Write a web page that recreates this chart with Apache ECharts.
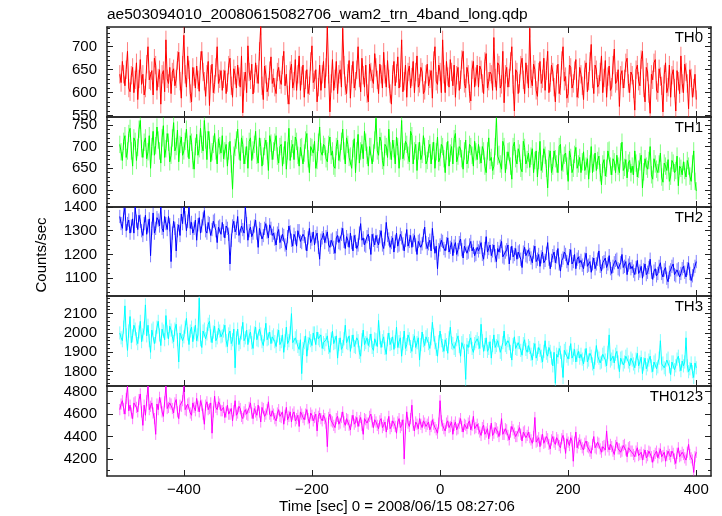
<!DOCTYPE html>
<html><head><meta charset="utf-8">
<script src="https://cdn.jsdelivr.net/npm/echarts@6/dist/echarts.min.js"></script>
<style>html,body{margin:0;padding:0;background:#fff}#c{width:722px;height:516px}</style>
</head><body><div id="c"></div>
<script>
// ---- data ----
const titleText = 'ae503094010_20080615082706_wam2_trn_4band_long.qdp';
const xLabel = 'Time [sec] 0 = 2008/06/15 08:27:06';
const yLabel = 'Counts/sec';
const bandNames = ['TH0', 'TH1', 'TH2', 'TH3', 'TH0123'];
const tStart = -500, tStep = 2; // bin centres, 2 s bins
const xTicks = [-400, -200, 0, 200, 400];

const th0 = [
640,622,668,640,615,650,690,610,602,638,655,600,628,665,585,630,672,618,640,595,610,662,700,628,625,648,595,675,660,605,632,650,575,640,648,602,715,630,620,655,
598,645,652,615,630,670,688,625,588,660,725,640,612,680,650,598,580,655,635,610,658,628,603,670,690,645,625,592,640,668,572,640,662,600,618,655,700,620,630,648,
605,630,648,598,622,660,675,615,590,652,638,610,660,635,612,680,556,625,645,600,702,645,628,662,597,620,665,640,620,690,745,615,585,658,640,602,612,648,678,620,
632,612,598,645,655,628,618,660,690,615,640,595,575,648,662,610,625,672,605,640,680,605,637,660,590,628,650,598,615,668,702,622,628,650,580,612,660,605,640,668,
610,655,745,640,558,620,672,605,630,668,598,640,650,612,740,660,615,598,642,670,588,640,668,610,625,650,700,632,602,675,638,612,660,598,580,662,645,630,620,685,
655,628,598,662,640,610,688,640,612,670,630,598,575,640,668,615,642,678,610,632,715,602,625,660,590,645,658,610,634,668,600,645,680,612,620,655,645,598,605,640,
662,615,630,648,588,670,700,625,618,660,645,600,715,640,600,668,635,612,672,645,615,660,590,638,655,605,628,672,690,620,610,655,640,598,582,650,668,612,635,660,
612,658,650,620,598,668,685,610,625,645,640,605,720,632,605,665,660,610,618,690,578,640,655,612,632,668,700,618,560,650,645,598,620,660,675,628,598,665,640,610,
740,630,615,662,650,605,592,645,668,620,630,675,605,648,690,600,622,660,645,612,580,640,662,598,615,670,700,625,635,588,598,660,655,610,620,648,672,590,608,655,
640,615,585,650,665,602,625,668,705,630,598,660,650,612,618,645,680,600,632,670,590,635,658,605,612,660,695,620,625,650,570,638,648,610,630,665,675,620,600,645,
638,608,562,650,660,625,615,672,690,610,580,655,645,598,555,640,628,665,672,605,600,652,635,615,558,640,665,600,612,660,590,638,650,610,560,648,625,598,680,620,
600,662,645,620,565,650,632,590,610,640,585];

const th1 = [
705,688,668,712,725,675,690,730,742,690,655,720,712,668,698,740,760,695,675,710,720,672,688,725,650,700,735,680,702,745,715,690,662,720,748,675,695,730,710,665,
680,720,755,690,700,738,665,705,722,680,690,712,740,695,672,725,710,668,648,700,728,680,695,742,705,690,760,715,670,735,715,665,688,705,730,690,660,718,702,685,
725,672,690,705,655,690,712,660,602,680,698,715,740,690,668,720,705,660,680,700,650,712,720,668,692,705,735,680,662,720,700,655,678,700,715,690,645,725,708,670,
690,710,725,678,662,700,705,655,680,712,648,690,742,668,695,705,670,722,712,680,655,698,700,660,685,715,730,672,640,700,698,685,712,650,668,710,745,688,680,705,
700,672,665,705,722,680,690,655,650,700,715,668,685,712,740,690,660,720,705,675,678,650,695,718,640,690,728,662,690,705,672,735,710,680,655,700,700,660,685,715,
765,690,680,722,712,668,655,705,700,675,740,690,670,715,695,660,722,700,650,690,760,672,688,712,705,680,665,735,725,660,690,705,645,690,710,670,682,725,700,660,
668,695,705,660,690,710,650,688,722,665,675,705,700,672,640,690,712,655,685,700,660,718,730,665,678,700,695,672,648,690,715,660,670,705,700,680,655,712,688,670,
705,680,662,700,690,655,640,690,720,668,675,645,655,700,765,678,682,660,648,712,700,640,668,688,690,655,625,700,710,672,660,695,685,650,642,712,698,660,670,685,
652,678,695,640,668,690,630,668,712,645,660,695,680,650,605,672,690,640,655,690,672,660,640,700,705,645,662,680,685,655,620,690,675,640,650,682,698,650,660,675,
640,665,688,645,655,672,625,660,700,640,662,685,645,668,678,640,612,660,670,632,650,690,692,655,635,672,665,640,680,655,640,688,710,645,652,670,628,662,668,640,
655,635,690,662,630,648,665,680,605,642,672,655,648,668,700,635,625,672,660,648,640,660,685,630,618,662,655,645,670,620,632,668,662,640,645,678,610,655,650,635,
665,645,630,668,655,632,620,660,690,620,598];

const th2 = [
1360,1330,1310,1370,1395,1300,1330,1345,1290,1320,1350,1290,1400,1340,1305,1365,1340,1300,1280,1330,1365,1285,1320,1350,1195,1310,1375,1290,1310,1355,1345,1320,1400,1310,1295,1360,1330,1305,1360,1325,
1170,1290,1340,1310,1215,1300,1325,1280,1370,1330,1400,1355,1300,1340,1400,1310,1335,1290,1310,1345,1260,1325,1355,1290,1320,1350,1385,1300,1290,1335,1330,1280,1305,1340,1345,1300,1250,1315,1320,1285,
1335,1300,1270,1320,1310,1285,1160,1260,1320,1340,1295,1310,1360,1280,1275,1320,1305,1290,1400,1330,1260,1300,1315,1275,1290,1320,1345,1290,1230,1310,1305,1265,1280,1310,1330,1295,1270,1325,1310,1280,
1290,1265,1240,1290,1305,1250,1255,1285,1280,1240,1220,1275,1320,1295,1260,1235,1285,1270,1235,1300,1300,1255,1250,1285,1275,1245,1215,1270,1310,1250,1265,1295,1240,1275,1290,1230,1180,1260,1270,1290,
1250,1275,1295,1240,1230,1260,1265,1230,1205,1270,1280,1250,1245,1285,1310,1255,1225,1275,1260,1230,1290,1250,1215,1280,1255,1225,1240,1290,1330,1260,1270,1240,1235,1275,1285,1250,1200,1285,1260,1240,
1280,1255,1240,1275,1300,1240,1225,1265,1335,1280,1265,1230,1250,1270,1210,1255,1290,1235,1240,1285,1270,1245,1215,1260,1305,1235,1255,1280,1230,1260,1280,1240,1200,1255,1260,1230,1245,1280,1315,1250,
1225,1245,1260,1215,1310,1250,1205,1235,1140,1220,1240,1260,1255,1225,1215,1245,1270,1210,1230,1250,1195,1235,1250,1200,1220,1250,1265,1220,1185,1235,1240,1205,1210,1240,1255,1215,1230,1195,1200,1230,
1215,1230,1250,1200,1180,1225,1275,1210,1225,1240,1195,1215,1240,1195,1170,1225,1210,1235,1255,1190,1185,1210,1220,1240,1160,1205,1235,1190,1200,1225,1180,1210,1215,1180,1145,1210,1230,1195,1190,1220,
1200,1185,1165,1210,1235,1170,1180,1200,1150,1190,1210,1165,1175,1205,1250,1180,1140,1175,1195,1210,1165,1190,1225,1160,1130,1175,1185,1210,1200,1170,1155,1195,1220,1160,1170,1200,1140,1180,1190,1165,
1175,1155,1140,1180,1205,1150,1155,1170,1125,1160,1185,1140,1160,1180,1215,1150,1130,1165,1170,1185,1145,1160,1195,1140,1120,1150,1165,1175,1180,1140,1135,1165,1200,1145,1150,1170,1115,1155,1165,1140,
1150,1130,1115,1145,1175,1120,1130,1150,1100,1135,1160,1115,1125,1145,1180,1125,1095,1130,1140,1110,1120,1150,1165,1120,1105,1135,1145,1100,1085,1125,1135,1150,1160,1115,1110,1135,1140,1105,1120,1140,
1150,1125,1105,1140,1165,1120,1090,1110,1135,1150,1170];

const th3 = [
2000,1975,1960,2030,2140,1990,1910,2010,2085,1950,1985,2040,2020,1970,1945,2005,2060,1955,1990,2025,2145,1985,2040,1960,1900,2015,2025,1945,1980,2030,2060,1990,1935,2020,2010,1965,2090,2005,1970,2035,
2015,1980,1955,2020,2045,1965,1850,2000,2010,1960,1980,2030,2075,1995,1940,2010,2030,1955,2000,2040,1960,1990,2180,1965,1925,2010,2020,1970,1995,2045,2060,1985,1950,2005,2035,1960,1975,2025,2010,1980,
1985,2010,2040,1960,1930,1995,2010,1945,1965,2020,1820,1975,2020,1940,1950,2000,2055,1960,1975,2015,1940,1985,2005,1950,1920,2000,2030,1965,1960,2020,1995,1955,1935,1990,2050,1965,1970,2005,1945,1980,
1990,1955,1930,1985,2015,1940,1955,1990,1900,1960,2030,1945,1960,2000,2100,1950,1940,1975,1985,1930,1915,1965,1790,1920,1950,1985,1880,1945,1975,1960,1935,2000,2000,1940,2005,1970,1960,1990,1920,1950,
1940,1965,1985,1925,1900,1970,2010,1945,1950,1985,1870,1940,1975,1915,1930,1970,2040,1950,1945,1985,1905,1955,1990,1930,1925,1975,1960,1900,1880,1965,2015,1940,1950,1975,1935,1960,1995,1925,1910,1970,
1965,1930,2065,1975,1925,1960,1980,1920,1890,1965,2000,1940,1945,1980,1915,1955,2030,1925,1955,1975,1880,1945,2010,1920,1940,1990,1970,1930,1905,1960,1985,1925,1950,1975,1860,1940,2005,1960,1935,1980,
1990,1945,1920,1970,2055,1990,1950,1915,1880,1955,2010,1960,1935,1905,1965,1940,1895,1975,2030,1950,1945,1920,1910,1965,1985,1930,1880,1950,1960,1910,1760,1940,1925,1960,1975,1920,1900,1945,1955,1970,
1950,1920,2045,1960,1905,1940,1975,1905,1920,1955,1870,1935,1990,1925,1935,1960,1960,1900,1890,1950,2010,1935,1925,1960,1945,1905,1860,1940,1980,1920,1915,1950,1950,1910,1885,1945,1965,1915,1900,1935,
1925,1890,1860,1915,1945,1870,1890,1925,1910,1880,1850,1905,1960,1895,1880,1925,1905,1870,1830,1900,1740,1890,1875,1920,1900,1855,1770,1910,1920,1880,1865,1900,1945,1870,1885,1915,1850,1885,1905,1870,
1890,1865,1840,1885,1920,1850,1860,1895,1880,1840,1815,1870,1935,1880,1870,1845,1850,1890,1900,1860,1830,1900,1990,1855,1865,1880,1845,1890,1905,1850,1800,1870,1875,1835,1850,1880,1890,1850,1830,1870,
1860,1840,1820,1865,1895,1830,1850,1875,1790,1840,1870,1815,1835,1860,1880,1830,1800,1850,1860,1815,1825,1870,1960,1840,1845,1820,1810,1860,1870,1825,1785,1850,1850,1810,1830,1865,1880,1835,1805,1855,
1830,1850,1975,1830,1800,1815,1845,1800,1770,1845,1820];

const th0123 = [
4640,4690,4720,4650,4600,4740,4850,4630,4680,4610,4560,4700,4710,4660,4620,4730,4780,4620,4500,4680,4590,4720,4850,4640,4670,4700,4610,4560,4420,4690,4640,4750,4700,4620,4580,4710,4850,4650,4660,4700,
4690,4650,4610,4700,4730,4620,4560,4680,4670,4720,4850,4640,4630,4690,4700,4610,4590,4700,4660,4630,4740,4670,4620,4720,4680,4600,4510,4680,4710,4640,4650,4700,4430,4620,4760,4660,4640,4710,4690,4630,
4630,4660,4570,4620,4680,4600,4600,4650,4540,4630,4720,4590,4610,4670,4650,4580,4560,4620,4640,4600,4590,4660,4700,4610,4560,4650,4620,4590,4680,4620,4530,4660,4650,4580,4600,4640,4710,4600,4580,4630,
4600,4560,4540,4610,4640,4580,4570,4620,4510,4590,4660,4550,4580,4620,4530,4600,4620,4540,4560,4590,4490,4620,4600,4570,4550,4600,4640,4560,4520,4610,4590,4540,4570,4600,4450,4580,4610,4560,4540,4590,
4560,4520,4310,4570,4600,4540,4530,4500,4480,4560,4580,4510,4520,4570,4620,4530,4500,4560,4550,4500,4460,4540,4590,4510,4530,4570,4490,4540,4570,4500,4420,4560,4550,4520,4510,4580,4600,4530,4480,4550,
4530,4500,4470,4540,4560,4480,4500,4530,4440,4510,4580,4470,4490,4540,4520,4490,4430,4530,4560,4480,4500,4550,4200,4470,4620,4520,4490,4560,4680,4500,4450,4530,4510,4470,4560,4510,4480,4540,4520,4490,
4510,4530,4460,4490,4550,4510,4480,4460,4430,4520,4720,4540,4500,4470,4450,4520,4540,4480,4490,4530,4420,4500,4530,4460,4470,4520,4560,4490,4440,4510,4500,4470,4520,4540,4460,4500,4580,4470,4480,4510,
4470,4440,4410,4480,4500,4420,4440,4470,4380,4450,4520,4410,4430,4480,4470,4440,4400,4460,4560,4420,4420,4470,4460,4410,4370,4440,4490,4460,4430,4400,4400,4450,4480,4420,4360,4440,4450,4390,4410,4440,
4390,4370,4340,4400,4570,4350,4360,4390,4310,4370,4420,4340,4350,4400,4380,4330,4290,4370,4400,4350,4330,4390,4370,4320,4300,4380,4410,4340,4250,4380,4350,4320,4390,4360,4180,4350,4440,4300,4340,4370,
4330,4300,4280,4340,4360,4310,4300,4270,4250,4330,4400,4300,4290,4350,4340,4290,4260,4310,4320,4280,4450,4310,4280,4330,4310,4270,4240,4320,4350,4290,4290,4260,4270,4320,4330,4280,4220,4300,4310,4270,
4270,4240,4220,4270,4300,4230,4240,4260,4190,4240,4280,4210,4230,4270,4260,4220,4170,4230,4250,4270,4210,4250,4290,4220,4230,4260,4180,4230,4270,4240,4220,4270,4250,4200,4160,4250,4300,4220,4230,4260,
4240,4210,4190,4260,4330,4240,4210,4190,4080,4220,4260];

const bandValues = [th0, th1, th2, th3, th0123];
const bandErrors = [20, 20, 28, 34, 50];
const yMins = [547, 561, 1025, 1726, 4048];
const yMaxs = [743, 768, 1400, 2191, 4851];
const yMajorTicks = [
  [550, 600, 650, 700],
  [600, 650, 700, 750],
  [1100, 1200, 1300, 1400],
  [1800, 1900, 2000, 2100],
  [4200, 4400, 4600, 4800]
];
const yMinorSteps = [10, 10, 20, 20, 100];
const bandColors = ['#ff0000', '#00ff00', '#0000ff', '#00ffff', '#ff00ff'];

// ---- layout ----
const panelTops = [27, 117, 207, 296, 386];
const panelBottoms = [117, 207, 296, 386, 476];
const plotLeft = 107, plotRight = 711, W = 722;
const xMin = -520, xMax = 423;
const FONT = '"Liberation Sans", Arial, sans-serif';
const FS = 15;
const axisColor = '#222';

const times = th0.map((_, k) => tStart + tStep * k);

function minorTicks(lo, hi, step) {
  const out = [];
  for (let v = Math.ceil(lo / step) * step; v <= hi; v += step) out.push(v);
  return out;
}
const minus = v => String(v).replace('-', '\u2212');
const plain = v => String(v);

const grids = [], xAxes = [], yAxes = [], series = [], graphics = [];
bandNames.forEach((name, i) => {
  grids.push({ left: plotLeft, right: W - plotRight, top: panelTops[i], height: panelBottoms[i] - panelTops[i], containLabel: false });
  ['bottom', 'top'].forEach(pos => {
    xAxes.push({
      gridIndex: i, type: 'value', position: pos, min: xMin, max: xMax,
      axisLine: { show: true, onZero: false, lineStyle: { color: axisColor, width: 1.5 } },
      axisTick: { show: true, inside: true, length: 6, customValues: xTicks, lineStyle: { color: axisColor, width: 1 } },
      axisLabel: { show: pos === 'bottom' && i === 4, customValues: xTicks, formatter: minus, margin: 6,
                   color: '#000', fontSize: FS, fontFamily: FONT },
      splitLine: { show: false }
    });
  });
  const minors = minorTicks(yMins[i], yMaxs[i], yMinorSteps[i]).filter(v => !yMajorTicks[i].includes(v));
  ['left', 'right'].forEach(pos => {
    yAxes.push({
      gridIndex: i, type: 'value', position: pos, min: yMins[i], max: yMaxs[i],
      axisLine: { show: true, onZero: false, lineStyle: { color: axisColor, width: 1.5 } },
      axisTick: { show: true, inside: true, length: 6, customValues: yMajorTicks[i], lineStyle: { color: axisColor, width: 1 } },
      axisLabel: { show: pos === 'left', customValues: yMajorTicks[i], formatter: plain, margin: 10,
                   color: '#000', fontSize: FS, fontFamily: FONT },
      splitLine: { show: false }
    });
    yAxes.push({
      gridIndex: i, type: 'value', position: pos, min: yMins[i], max: yMaxs[i],
      axisLine: { show: false, onZero: false },
      axisTick: { show: true, inside: true, length: 3, customValues: minors, lineStyle: { color: axisColor, width: 1 } },
      axisLabel: { show: false },
      splitLine: { show: false }
    });
  });
  const vals = bandValues[i];
  const pts = vals.map((v, k) => [times[k], v]);
  const err = bandErrors[i];
  const col = bandColors[i];
  series.push({
    type: 'custom', xAxisIndex: 2 * i, yAxisIndex: 4 * i, clip: true, silent: true,
    data: pts,
    renderItem: (params, api) => {
      const x = api.value(0), v = api.value(1);
      const p1 = api.coord([x, v - err]);
      const p2 = api.coord([x, v + err]);
      return { type: 'line', shape: { x1: p1[0], y1: p1[1], x2: p2[0], y2: p2[1] },
               style: { stroke: col, opacity: 0.5, lineWidth: 1 } };
    }
  });
  series.push({
    type: 'line', xAxisIndex: 2 * i, yAxisIndex: 4 * i, data: pts, showSymbol: false, symbol: 'none',
    clip: true, silent: true, lineStyle: { color: col, width: 1 }
  });
  graphics.push({ type: 'text', x: 703, y: panelTops[i] + 11,
    style: { text: name, fill: '#000', fontSize: FS, fontFamily: FONT, align: 'right', verticalAlign: 'middle' } });
});

graphics.push({ type: 'text', x: 107, y: 15,
  style: { text: titleText, fill: '#000', fontSize: 15.5, fontFamily: FONT, align: 'left', verticalAlign: 'middle' } });
graphics.push({ type: 'text', x: 397, y: 507,
  style: { text: xLabel, fill: '#000', fontSize: FS, fontFamily: FONT, align: 'center', verticalAlign: 'middle' } });
graphics.push({ type: 'text', x: 42, y: 255, rotation: Math.PI / 2,
  style: { text: yLabel, fill: '#000', fontSize: FS, fontFamily: FONT, align: 'center', verticalAlign: 'middle' } });

const chart = echarts.init(document.getElementById('c'), null, { renderer: 'canvas' });
chart.setOption({
  animation: false,
  backgroundColor: '#fff',
  grid: grids, xAxis: xAxes, yAxis: yAxes, series: series, graphic: graphics
});
</script></body></html>
